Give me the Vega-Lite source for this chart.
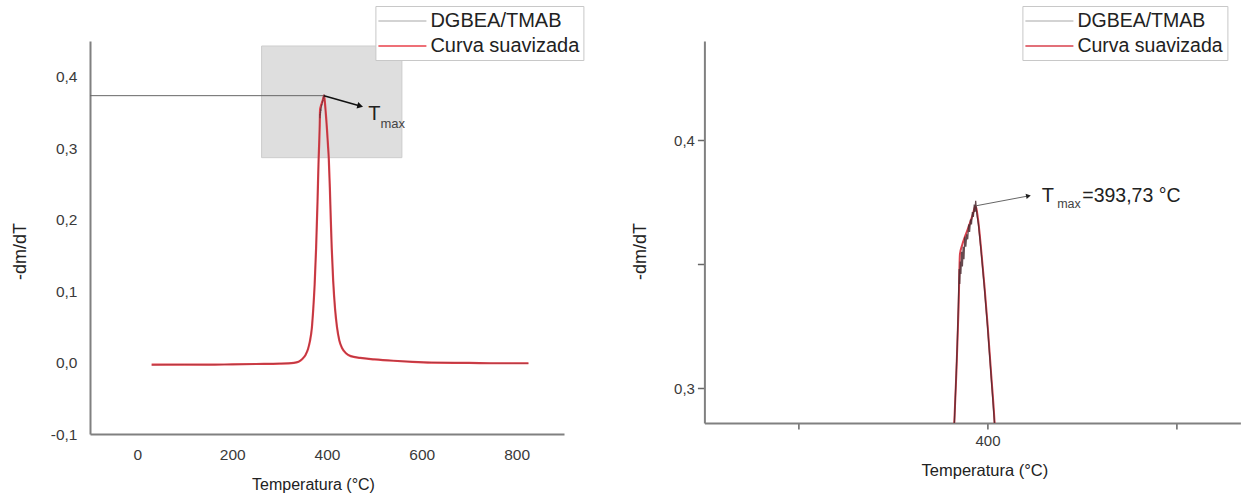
{
  "$schema": "https://vega.github.io/schema/vega-lite/v6.json",
  "padding": {"left": 11, "top": 5, "right": 5, "bottom": 5},
  "background": "white",
  "config": {
    "view": {"stroke": null},
    "font": "Liberation Sans",
    "axis": {"grid": false, "domainColor": "#808080", "domainWidth": 2, "tickColor": "#666666", "tickWidth": 1.5, "labelColor": "#3a3a3a", "labelFont": "Liberation Sans", "titleFont": "Liberation Sans", "titleFontWeight": "normal", "titleColor": "#222222"},
    "legend": {"orient": "none", "title": null, "symbolType": "M-1.2,0H3.6", "symbolSize": 400, "symbolStrokeWidth": 1.5, "labelFont": "Liberation Sans", "labelColor": "#222222", "labelOffset": 29, "rowPadding": 4, "padding": 4, "strokeColor": "#c8c8c8", "fillColor": "white"}
  },
  "datasets": {
    "curve": [
      {"T": 30, "v": -0.003, "serie": "Curva suavizada"},
      {"T": 60, "v": -0.003, "serie": "Curva suavizada"},
      {"T": 100, "v": -0.003, "serie": "Curva suavizada"},
      {"T": 150, "v": -0.003, "serie": "Curva suavizada"},
      {"T": 200, "v": -0.0025, "serie": "Curva suavizada"},
      {"T": 250, "v": -0.002, "serie": "Curva suavizada"},
      {"T": 300, "v": -0.0015, "serie": "Curva suavizada"},
      {"T": 330, "v": -0.0005, "serie": "Curva suavizada"},
      {"T": 340, "v": 0.001, "serie": "Curva suavizada"},
      {"T": 348, "v": 0.005, "serie": "Curva suavizada"},
      {"T": 355, "v": 0.011, "serie": "Curva suavizada"},
      {"T": 360, "v": 0.019, "serie": "Curva suavizada"},
      {"T": 364, "v": 0.03, "serie": "Curva suavizada"},
      {"T": 368, "v": 0.048, "serie": "Curva suavizada"},
      {"T": 371, "v": 0.075, "serie": "Curva suavizada"},
      {"T": 374, "v": 0.11, "serie": "Curva suavizada"},
      {"T": 377, "v": 0.16, "serie": "Curva suavizada"},
      {"T": 380, "v": 0.225, "serie": "Curva suavizada"},
      {"T": 382.4, "v": 0.2859, "serie": "Curva suavizada"},
      {"T": 383.5, "v": 0.306, "serie": "Curva suavizada"},
      {"T": 384.7, "v": 0.333, "serie": "Curva suavizada"},
      {"T": 385.4, "v": 0.354, "serie": "Curva suavizada"},
      {"T": 386.5, "v": 0.3575, "serie": "Curva suavizada"},
      {"T": 388, "v": 0.361, "serie": "Curva suavizada"},
      {"T": 390, "v": 0.365, "serie": "Curva suavizada"},
      {"T": 392, "v": 0.3695, "serie": "Curva suavizada"},
      {"T": 393.73, "v": 0.3735, "serie": "Curva suavizada"},
      {"T": 395, "v": 0.368, "serie": "Curva suavizada"},
      {"T": 396.5, "v": 0.357, "serie": "Curva suavizada"},
      {"T": 398.4, "v": 0.341, "serie": "Curva suavizada"},
      {"T": 400, "v": 0.326, "serie": "Curva suavizada"},
      {"T": 402, "v": 0.305, "serie": "Curva suavizada"},
      {"T": 403.7, "v": 0.2867, "serie": "Curva suavizada"},
      {"T": 406, "v": 0.245, "serie": "Curva suavizada"},
      {"T": 408, "v": 0.2, "serie": "Curva suavizada"},
      {"T": 410, "v": 0.16, "serie": "Curva suavizada"},
      {"T": 413, "v": 0.115, "serie": "Curva suavizada"},
      {"T": 417, "v": 0.075, "serie": "Curva suavizada"},
      {"T": 421, "v": 0.05, "serie": "Curva suavizada"},
      {"T": 426, "v": 0.031, "serie": "Curva suavizada"},
      {"T": 432, "v": 0.02, "serie": "Curva suavizada"},
      {"T": 440, "v": 0.013, "serie": "Curva suavizada"},
      {"T": 450, "v": 0.009, "serie": "Curva suavizada"},
      {"T": 470, "v": 0.0065, "serie": "Curva suavizada"},
      {"T": 500, "v": 0.0045, "serie": "Curva suavizada"},
      {"T": 540, "v": 0.0025, "serie": "Curva suavizada"},
      {"T": 580, "v": 0.001, "serie": "Curva suavizada"},
      {"T": 620, "v": 0.0, "serie": "Curva suavizada"},
      {"T": 700, "v": -0.0005, "serie": "Curva suavizada"},
      {"T": 760, "v": -0.001, "serie": "Curva suavizada"},
      {"T": 825, "v": -0.001, "serie": "Curva suavizada"},
      {"T": 30, "v": -0.0035, "serie": "DGBEA/TMAB"},
      {"T": 60, "v": -0.003, "serie": "DGBEA/TMAB"},
      {"T": 100, "v": -0.0028, "serie": "DGBEA/TMAB"},
      {"T": 150, "v": -0.0032, "serie": "DGBEA/TMAB"},
      {"T": 200, "v": -0.0025, "serie": "DGBEA/TMAB"},
      {"T": 250, "v": -0.0021, "serie": "DGBEA/TMAB"},
      {"T": 300, "v": -0.0014, "serie": "DGBEA/TMAB"},
      {"T": 330, "v": -0.0006, "serie": "DGBEA/TMAB"},
      {"T": 340, "v": 0.0012, "serie": "DGBEA/TMAB"},
      {"T": 348, "v": 0.005, "serie": "DGBEA/TMAB"},
      {"T": 355, "v": 0.0108, "serie": "DGBEA/TMAB"},
      {"T": 360, "v": 0.0195, "serie": "DGBEA/TMAB"},
      {"T": 364, "v": 0.0298, "serie": "DGBEA/TMAB"},
      {"T": 368, "v": 0.0485, "serie": "DGBEA/TMAB"},
      {"T": 371, "v": 0.0752, "serie": "DGBEA/TMAB"},
      {"T": 374, "v": 0.1105, "serie": "DGBEA/TMAB"},
      {"T": 377, "v": 0.1598, "serie": "DGBEA/TMAB"},
      {"T": 380, "v": 0.226, "serie": "DGBEA/TMAB"},
      {"T": 381, "v": 0.25, "serie": "DGBEA/TMAB"},
      {"T": 382, "v": 0.277, "serie": "DGBEA/TMAB"},
      {"T": 383, "v": 0.297, "serie": "DGBEA/TMAB"},
      {"T": 384, "v": 0.318, "serie": "DGBEA/TMAB"},
      {"T": 384.6, "v": 0.335, "serie": "DGBEA/TMAB"},
      {"T": 385, "v": 0.348, "serie": "DGBEA/TMAB"},
      {"T": 385.3, "v": 0.342, "serie": "DGBEA/TMAB"},
      {"T": 385.6, "v": 0.351, "serie": "DGBEA/TMAB"},
      {"T": 385.9, "v": 0.346, "serie": "DGBEA/TMAB"},
      {"T": 386.3, "v": 0.355, "serie": "DGBEA/TMAB"},
      {"T": 386.7, "v": 0.349, "serie": "DGBEA/TMAB"},
      {"T": 387.1, "v": 0.357, "serie": "DGBEA/TMAB"},
      {"T": 387.5, "v": 0.352, "serie": "DGBEA/TMAB"},
      {"T": 388, "v": 0.361, "serie": "DGBEA/TMAB"},
      {"T": 388.5, "v": 0.357, "serie": "DGBEA/TMAB"},
      {"T": 389, "v": 0.362, "serie": "DGBEA/TMAB"},
      {"T": 389.5, "v": 0.36, "serie": "DGBEA/TMAB"},
      {"T": 390, "v": 0.366, "serie": "DGBEA/TMAB"},
      {"T": 390.5, "v": 0.363, "serie": "DGBEA/TMAB"},
      {"T": 391, "v": 0.368, "serie": "DGBEA/TMAB"},
      {"T": 391.5, "v": 0.366, "serie": "DGBEA/TMAB"},
      {"T": 392, "v": 0.371, "serie": "DGBEA/TMAB"},
      {"T": 392.5, "v": 0.369, "serie": "DGBEA/TMAB"},
      {"T": 393, "v": 0.374, "serie": "DGBEA/TMAB"},
      {"T": 393.4, "v": 0.371, "serie": "DGBEA/TMAB"},
      {"T": 393.73, "v": 0.3755, "serie": "DGBEA/TMAB"},
      {"T": 394.1, "v": 0.372, "serie": "DGBEA/TMAB"},
      {"T": 394.6, "v": 0.369, "serie": "DGBEA/TMAB"},
      {"T": 395.2, "v": 0.366, "serie": "DGBEA/TMAB"},
      {"T": 396, "v": 0.36, "serie": "DGBEA/TMAB"},
      {"T": 397, "v": 0.352, "serie": "DGBEA/TMAB"},
      {"T": 398.4, "v": 0.34, "serie": "DGBEA/TMAB"},
      {"T": 400, "v": 0.325, "serie": "DGBEA/TMAB"},
      {"T": 402, "v": 0.304, "serie": "DGBEA/TMAB"},
      {"T": 403.7, "v": 0.286, "serie": "DGBEA/TMAB"},
      {"T": 406, "v": 0.246, "serie": "DGBEA/TMAB"},
      {"T": 408, "v": 0.201, "serie": "DGBEA/TMAB"},
      {"T": 410, "v": 0.161, "serie": "DGBEA/TMAB"},
      {"T": 413, "v": 0.115, "serie": "DGBEA/TMAB"},
      {"T": 417, "v": 0.0755, "serie": "DGBEA/TMAB"},
      {"T": 421, "v": 0.0502, "serie": "DGBEA/TMAB"},
      {"T": 426, "v": 0.0312, "serie": "DGBEA/TMAB"},
      {"T": 432, "v": 0.0198, "serie": "DGBEA/TMAB"},
      {"T": 440, "v": 0.0131, "serie": "DGBEA/TMAB"},
      {"T": 450, "v": 0.0089, "serie": "DGBEA/TMAB"},
      {"T": 470, "v": 0.0066, "serie": "DGBEA/TMAB"},
      {"T": 500, "v": 0.0044, "serie": "DGBEA/TMAB"},
      {"T": 540, "v": 0.0026, "serie": "DGBEA/TMAB"},
      {"T": 580, "v": 0.0011, "serie": "DGBEA/TMAB"},
      {"T": 620, "v": 0.0001, "serie": "DGBEA/TMAB"},
      {"T": 700, "v": -0.0006, "serie": "DGBEA/TMAB"},
      {"T": 760, "v": -0.0009, "serie": "DGBEA/TMAB"},
      {"T": 825, "v": -0.0011, "serie": "DGBEA/TMAB"}
    ]
  },
  "bounds": "flush",
  "spacing": 140.4,
  "resolve": {"scale": {"color": "independent"}, "legend": {"color": "independent"}},
  "hconcat": [
    {
      "width": 474,
      "height": 393,
      "encoding": {
        "x": {"field": "T", "type": "quantitative", "title": "Temperatura (°C)", "scale": {"domain": [-100, 900], "nice": false, "zero": false},
          "axis": {"values": [0, 200, 400, 600, 800], "ticks": false, "tickSize": 0, "labelPadding": 13, "labelFontSize": 15.5, "titleFontSize": 16, "titleX": 223, "titleY": 50, "titleAlign": "center", "titleBaseline": "middle"}},
        "y": {"field": "v", "type": "quantitative", "title": "-dm/dT", "scale": {"domain": [-0.1, 0.45], "nice": false, "zero": false},
          "axis": {"values": [-0.1, 0, 0.1, 0.2, 0.3, 0.4], "ticks": false, "tickSize": 0, "labelPadding": 13, "labelFontSize": 15.5, "labelExpr": "replace(replace(format(datum.value, '.1f'), '.', ','), '\u2212', '-')", "titleFontSize": 18, "titleX": -69.6, "titleY": 210, "titleAlign": "center", "titleBaseline": "middle", "titleAngle": -90}}
      },
      "layer": [
        {
          "data": {"values": [{"T": 262, "T2": 558, "v": 0.2867, "v2": 0.443}]},
          "mark": {"type": "rect", "fill": "#dedede", "stroke": "#cdcdcd", "strokeWidth": 1},
          "encoding": {"x2": {"field": "T2"}, "y2": {"field": "v2"}}
        },
        {
          "data": {"values": [{"T": -100, "T2": 393.73, "v": 0.3735}]},
          "mark": {"type": "rule", "color": "#666666", "strokeWidth": 1},
          "encoding": {"x2": {"field": "T2"}}
        },
        {
          "data": {"name": "curve"},
          "transform": [{"filter": "datum.serie === 'Curva suavizada'"}],
          "mark": {"type": "line", "strokeWidth": 2.2, "interpolate": "monotone"},
          "encoding": {"color": {"field": "serie", "type": "nominal", "scale": {"domain": ["DGBEA/TMAB", "Curva suavizada"], "range": ["#c4c4c4", "#e8404a"]},
            "legend": {"legendX": 285.4, "legendY": -35, "labelFontSize": 20}}}
        },
        {
          "data": {"name": "curve"},
          "transform": [{"filter": "datum.serie === 'DGBEA/TMAB'"}],
          "mark": {"type": "line", "strokeWidth": 0.7, "opacity": 0.6, "stroke": "#5a3038"},
          "encoding": {}
        },
        {
          "data": {"values": [{"T": 393.73, "v": 0.3735, "T2": 470, "v2": 0.359}]},
          "mark": {"type": "rule", "color": "#111111", "strokeWidth": 1.5},
          "encoding": {"x2": {"field": "T2"}, "y2": {"field": "v2"}}
        },
        {
          "data": {"values": [{"T": 470, "v": 0.359}]},
          "mark": {"type": "point", "shape": "triangle-right", "angle": 14, "size": 45, "filled": true, "color": "#111111", "opacity": 1},
          "encoding": {}
        },
        {
          "data": {"values": [{"T": 500, "v": 0.3485, "t": "T"}]},
          "mark": {"type": "text", "fontSize": 20, "align": "center", "baseline": "middle", "color": "#222222", "font": "Liberation Sans"},
          "encoding": {"text": {"field": "t"}}
        },
        {
          "data": {"values": [{"T": 512.7, "v": 0.3338, "t": "max"}]},
          "mark": {"type": "text", "fontSize": 13, "align": "left", "baseline": "middle", "color": "#444444", "font": "Liberation Sans"},
          "encoding": {"text": {"field": "t"}}
        }
      ]
    },
    {
      "width": 536,
      "height": 382,
      "encoding": {
        "x": {"field": "T", "type": "quantitative", "title": "Temperatura (°C)", "scale": {"domain": [250, 534], "nice": false, "zero": false},
          "axis": {"values": [300, 400, 500], "tickSize": 6, "labelPadding": 4, "labelFontSize": 15, "labelExpr": "datum.value == 400 ? '400' : ''", "titleFontSize": 16.5, "titleX": 280, "titleY": 47, "titleAlign": "center", "titleBaseline": "middle"}},
        "y": {"field": "v", "type": "quantitative", "title": "-dm/dT", "scale": {"domain": [0.2859, 0.44], "nice": false, "zero": false},
          "axis": {"values": [0.3, 0.35, 0.4], "tickSize": 7, "labelPadding": 3, "labelFontSize": 15, "labelExpr": "datum.value > 0.34 && datum.value < 0.36 ? '' : replace(format(datum.value, '.1f'), '.', ',')", "titleFontSize": 18, "titleX": -64, "titleY": 210, "titleAlign": "center", "titleBaseline": "middle", "titleAngle": -90}}
      },
      "layer": [
        {
          "data": {"name": "curve"},
          "transform": [{"filter": "datum.serie === 'Curva suavizada'"}],
          "mark": {"type": "line", "strokeWidth": 2, "interpolate": "monotone", "clip": true},
          "encoding": {"color": {"field": "serie", "type": "nominal", "scale": {"domain": ["DGBEA/TMAB", "Curva suavizada"], "range": ["#c4c4c4", "#d8404c"]},
            "legend": {"legendX": 318, "legendY": -35, "labelFontSize": 19.5}}}
        },
        {
          "data": {"name": "curve"},
          "transform": [{"filter": "datum.serie === 'DGBEA/TMAB'"}],
          "mark": {"type": "line", "strokeWidth": 1.3, "opacity": 0.85, "stroke": "#4a2a30", "clip": true},
          "encoding": {}
        },
        {
          "data": {"values": [{"T": 393.73, "v": 0.3735, "T2": 421.7, "v2": 0.3775}]},
          "mark": {"type": "rule", "color": "#666666", "strokeWidth": 1},
          "encoding": {"x2": {"field": "T2"}, "y2": {"field": "v2"}}
        },
        {
          "data": {"values": [{"T": 421.7, "v": 0.3775}]},
          "mark": {"type": "point", "shape": "triangle-right", "angle": -11, "size": 30, "filled": true, "color": "#222222", "opacity": 1},
          "encoding": {}
        },
        {
          "data": {"values": [{"T": 432.0, "v": 0.3775, "t": "T"}]},
          "mark": {"type": "text", "fontSize": 20, "align": "center", "baseline": "middle", "color": "#222222", "font": "Liberation Sans"},
          "encoding": {"text": {"field": "t"}}
        },
        {
          "data": {"values": [{"T": 436.9, "v": 0.3743, "t": "max"}]},
          "mark": {"type": "text", "fontSize": 12.5, "align": "left", "baseline": "middle", "color": "#444444", "font": "Liberation Sans"},
          "encoding": {"text": {"field": "t"}}
        },
        {
          "data": {"values": [{"T": 450.2, "v": 0.3775, "t": "=393,73 °C"}]},
          "mark": {"type": "text", "fontSize": 19.5, "align": "left", "baseline": "middle", "color": "#222222", "font": "Liberation Sans"},
          "encoding": {"text": {"field": "t"}}
        }
      ]
    }
  ]
}
